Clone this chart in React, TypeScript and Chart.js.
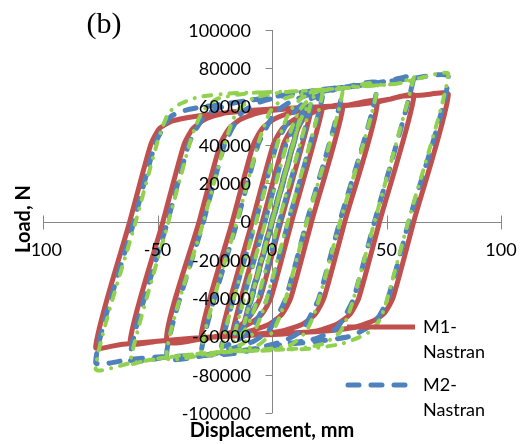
import React, { useEffect, useRef } from "react";
import { Chart, registerables } from "chart.js";

Chart.register(...registerables);

// ---------- data ----------
const X_TICKS = [-100, -50, 0, 50, 100];
const Y_TICKS = [-100000, -80000, -60000, -40000, -20000, 0, 20000, 40000, 60000, 80000, 100000];
const SERIES_NAMES = ["M1-Nastran", "M2-Nastran", "M3"];
const LEGEND_LINES = [["M1-", "Nastran"], ["M2-", "Nastran"]];
const X_TITLE = "Displacement, mm";
const Y_TITLE = "Load, N";
const PANEL_LABEL = "(b)";

// M1-Nastran (displacement mm, load N)
const M1_POINTS: [number, number][] = [
  [0, 0], [8, 35000], [10.5, 46000], [12, 52000],
  [0.2, 0], [-9, -40000], [-11, -48000], [-12, -52000],
  [-0.2, 0], [9, 40000], [11.5, 49000], [14, 54000], [17, 57500],
  [3.9, 0], [-5.2, -40000], [-9, -48500], [-13, -53500], [-17, -56500],
  [-4.2, 0], [4.9, 40000], [8.7, 48500], [13, 53500], [18, 57000], [22, 59000],
  [8.6, 0], [-0.5, -40000], [-4.5, -48500], [-10, -53500], [-16, -57000], [-22, -59000],
  [-8.6, 0], [0.5, 40000], [4.5, 48500], [10, 53500], [16, 57000], [22, 59200], [31, 60300],
  [17.3, 0], [8.2, -40000], [4.3, -48500], [-1, -53500], [-9, -57000], [-20, -59000], [-31, -60400],
  [-17.3, 0], [-8.2, 40000], [-4.3, 48500], [1, 53500], [9, 57000], [20, 59500], [32, 60500], [46, 62400],
  [31.8, 0], [22.7, -40000], [18.8, -48500], [13.5, -53500], [5, -57000], [-8, -59000], [-25, -60200], [-46, -62300],
  [-31.8, 0], [-22.7, 40000], [-18.8, 48500], [-13.5, 53500], [-5, 57000], [8, 59000], [25, 60200], [40, 61500], [52, 64000], [62, 65800],
  [47, 0], [37.9, -40000], [34, -48500], [28.5, -53500], [20, -57000], [5, -58700], [-15, -59600], [-35, -61000], [-50, -62500], [-62, -63300],
  [-47.6, 0], [-38.5, 40000], [-34.6, 48500], [-29, 53500], [-20, 56800], [-5, 58300], [10, 59300], [30, 60300], [46, 62400], [52, 64000], [57, 65500], [66, 66000], [77, 66300],
  [61.9, 0], [52.8, -40000], [49, -48000], [44, -52000], [35, -55500], [20, -57500], [0, -58700], [-20, -59800], [-40, -61500], [-55, -63000], [-66, -64200], [-77, -65600],
  [-62.1, 0], [-53, 40000], [-49.2, 48500], [-43.5, 52500], [-33, 55000], [-20, 56800], [0, 58700],
];

// M2-Nastran
const M2_POINTS: [number, number][] = [
  [0, 0], [8, 35000], [10.5, 47000], [12, 54000],
  [-0.3, 0], [-9.4, -40000], [-11, -48000], [-12, -54000],
  [0.3, 0], [9.4, 40000], [11.5, 49000], [14, 56000], [17, 60500],
  [3.25, 0], [-5.8, -40000], [-9.5, -49000], [-13, -56000], [-17, -61000],
  [-3.1, 0], [6, 40000], [9.5, 49000], [13, 56500], [17, 61500], [22, 65000],
  [7.2, 0], [-1.9, -40000], [-5.5, -49000], [-9.5, -57000], [-15, -62000], [-22, -65000],
  [-7.2, 0], [1.9, 40000], [5.5, 49000], [9.5, 57000], [15, 63000], [22, 66500], [31, 69500],
  [15.2, 0], [6.1, -40000], [2.5, -49000], [-1.5, -57000], [-8, -62500], [-18, -66500], [-31, -69500],
  [-15.2, 0], [-6.1, 40000], [-2.5, 49000], [1.5, 57000], [8, 62500], [18, 67000], [30, 69500], [46, 72000],
  [29.6, 0], [20.5, -40000], [16.9, -49000], [12.9, -57000], [5, -62500], [-8, -66500], [-25, -69000], [-46, -71000],
  [-29.9, 0], [-20.8, 40000], [-17.2, 49000], [-13, 57000], [-5, 62500], [8, 66500], [20, 68500], [35, 70500], [48, 72800], [56, 74800], [62, 75800],
  [44.8, 0], [35.7, -40000], [32, -49000], [28, -56000], [18, -61500], [0, -65000], [-17, -68500], [-32, -70000], [-46, -70800], [-62, -72000],
  [-45.6, 0], [-36.5, 40000], [-32.8, 49000], [-28.5, 56000], [-18, 61500], [0, 65000], [19, 68500], [35, 70700], [48, 72700], [60, 74500], [77, 75500],
  [59.8, 0], [50.7, -40000], [47, -49000], [43, -54500], [34, -60000], [20, -62500], [0, -65000], [-17, -69000], [-32, -70000], [-46, -70500], [-62, -72000], [-77, -73500],
  [-60.3, 0], [-51.2, 40000], [-47.5, 49000], [-44, 55000], [-38, 58000], [-32, 59500], [-17, 62000], [0, 65000],
];

// third series (green)
const M3_POINTS: [number, number][] = [
  [0, 0], [8, 35000], [11, 48000], [12, 53000],
  [0, 0], [-9.1, -40000], [-11, -48000], [-12, -53000],
  [0, 0], [9.1, 40000], [11.5, 50000], [14, 57000], [17, 62000],
  [2.9, 0], [-6.2, -40000], [-9, -50000], [-12, -57000], [-17, -62500],
  [-2.8, 0], [6.3, 40000], [9, 50000], [12, 58000], [16, 63500], [22, 66500],
  [6.9, 0], [-2.2, -40000], [-5, -50000], [-8, -58000], [-13, -64000], [-22, -66500],
  [-6.9, 0], [2.2, 40000], [5, 50000], [8, 58000], [13, 64500], [20, 67500], [31, 69500],
  [15.2, 0], [6.1, -40000], [3.3, -50000], [0, -58000], [-6, -64500], [-17, -67500], [-31, -69000],
  [-15.3, 0], [-6.2, 40000], [-3.4, 50000], [-0.5, 58000], [5, 64000], [17, 67500], [31, 69500], [46, 71500],
  [29.75, 0], [20.7, -40000], [17.9, -50000], [14.5, -58000], [8, -64500], [-5, -67000], [-25, -68500], [-46, -71000],
  [-29.9, 0], [-20.8, 40000], [-18, 50000], [-15, 58000], [-8, 64500], [5, 67500], [25, 69000], [42, 71000], [55, 72000], [60, 74500], [62, 75500],
  [44.8, 0], [35.7, -40000], [32.9, -50000], [29.5, -58000], [22, -64000], [10, -66500], [-5, -67500], [-20, -68000], [-40, -70000], [-55, -72500], [-62, -74000],
  [-45.2, 0], [-36.1, 40000], [-33.3, 50000], [-30, 58000], [-24, 64000], [-10, 67000], [10, 68000], [30, 69500], [45, 71000], [55, 72000], [65, 75000], [77, 77000],
  [59.5, 0], [50.4, -40000], [47.6, -50000], [44, -56500], [38, -60500], [30, -64000], [16, -66500], [0, -67000], [-17, -68000], [-32, -69000], [-46, -71000], [-62, -74000], [-77, -77000],
  [-59.5, 0], [-50.4, 40000], [-47.6, 50000], [-45, 57000], [-40, 61500], [-32, 65000], [-17, 67000], [0, 67500],
];

// ---------- styles ----------
const RED = "#C0504D";
const BLUE = "#4F81BD";
const GREEN = "#92D050";
const AXIS = "#868686";
const TICK_FONT = '18px Lato, "Liberation Sans", sans-serif';
const TITLE_FONT = 'bold 20px Lato, "Liberation Sans", sans-serif';
const PANEL_FONT = '30px "Liberation Serif", "Times New Roman", serif';

const toXY = (pts: [number, number][]) => pts.map(([x, y]) => ({ x, y }));

const excelPlugin = {
  id: "excelLook",
  beforeDatasetsDraw(chart: any) {
    const { ctx, scales } = chart;
    const sx = scales.x;
    const sy = scales.y;
    const x0 = Math.round(sx.getPixelForValue(0)) + 0.5;
    const y0 = Math.round(sy.getPixelForValue(0)) + 0.5;
    ctx.save();
    ctx.strokeStyle = AXIS;
    ctx.lineWidth = 1;
    ctx.beginPath();
    ctx.moveTo(sx.getPixelForValue(X_TICKS[0]), y0);
    ctx.lineTo(sx.getPixelForValue(X_TICKS[X_TICKS.length - 1]), y0);
    ctx.moveTo(x0, sy.getPixelForValue(Y_TICKS[0]));
    ctx.lineTo(x0, sy.getPixelForValue(Y_TICKS[Y_TICKS.length - 1]));
    for (const t of X_TICKS) {
      const px = Math.round(sx.getPixelForValue(t)) + 0.5;
      ctx.moveTo(px, y0 - 7);
      ctx.lineTo(px, y0 + 7);
    }
    for (const t of Y_TICKS) {
      const py = Math.round(sy.getPixelForValue(t)) + 0.5;
      ctx.moveTo(x0 - 7, py);
      ctx.lineTo(x0, py);
    }
    ctx.stroke();
    ctx.restore();
  },
  afterDatasetsDraw(chart: any) {
    const { ctx, scales } = chart;
    const sx = scales.x;
    const sy = scales.y;
    const x0 = sx.getPixelForValue(0);
    const y0 = sy.getPixelForValue(0);
    ctx.save();
    ctx.fillStyle = "#000";
    ctx.font = TICK_FONT;
    // x tick labels
    ctx.textAlign = "center";
    ctx.textBaseline = "middle";
    for (const t of X_TICKS) {
      ctx.fillText(String(t), sx.getPixelForValue(t), y0 + 29);
    }
    // y tick labels
    ctx.textAlign = "right";
    for (const t of Y_TICKS) {
      ctx.fillText(String(t), x0 - 21, sy.getPixelForValue(t) + 1);
    }
    // axis titles
    ctx.font = TITLE_FONT;
    ctx.textAlign = "center";
    ctx.fillText(X_TITLE, x0, 431);
    ctx.save();
    ctx.translate(24, 219);
    ctx.rotate(-Math.PI / 2);
    ctx.fillText(Y_TITLE, 0, 0);
    ctx.restore();
    // panel label
    ctx.font = PANEL_FONT;
    ctx.fillText(PANEL_LABEL, 104, 25);
    // legend
    const legendColors = [RED, BLUE];
    const legendDash = [[], [11, 12]];
    const legendY = [327, 385];
    for (let i = 0; i < LEGEND_LINES.length; i++) {
      ctx.save();
      ctx.strokeStyle = legendColors[i];
      ctx.lineWidth = 5;
      ctx.lineCap = i === 0 ? "butt" : "round";
      ctx.setLineDash(legendDash[i]);
      ctx.beginPath();
      ctx.moveTo(i === 0 ? 347 : 348, legendY[i]);
      ctx.lineTo(415, legendY[i]);
      ctx.stroke();
      ctx.restore();
      ctx.font = TICK_FONT;
      ctx.textAlign = "left";
      ctx.textBaseline = "middle";
      ctx.fillText(LEGEND_LINES[i][0], 423, legendY[i]);
      ctx.fillText(LEGEND_LINES[i][1], 423, legendY[i] + 25);
    }
    ctx.restore();
  },
};

export default function App() {
  const canvasRef = useRef<HTMLCanvasElement | null>(null);

  useEffect(() => {
    if (!canvasRef.current) return;
    const chart = new Chart(canvasRef.current, {
      type: "scatter",
      data: {
        datasets: [
          {
            label: SERIES_NAMES[0],
            data: toXY(M1_POINTS),
            showLine: true,
            borderColor: RED,
            backgroundColor: RED,
            borderWidth: 5,
            pointRadius: 0,
            tension: 0.2,
            borderJoinStyle: "round",
            borderCapStyle: "round",
            order: 3,
          },
          {
            label: SERIES_NAMES[1],
            data: toXY(M2_POINTS),
            showLine: true,
            borderColor: BLUE,
            backgroundColor: BLUE,
            borderWidth: 5,
            borderDash: [11, 12],
            borderCapStyle: "round",
            borderJoinStyle: "round",
            pointRadius: 0,
            tension: 0.2,
            order: 2,
          },
          {
            label: SERIES_NAMES[2],
            data: toXY(M3_POINTS),
            showLine: true,
            borderColor: GREEN,
            backgroundColor: GREEN,
            borderWidth: 4,
            borderDash: [8, 9, 0.1, 9],
            borderCapStyle: "round",
            borderJoinStyle: "round",
            pointRadius: 0,
            tension: 0.2,
            order: 1,
          },
        ],
      },
      options: {
        responsive: false,
        animation: false,
        devicePixelRatio: 1,
        layout: { padding: { left: 43, top: 30, right: 27, bottom: 31 } },
        plugins: {
          legend: { display: false },
          tooltip: { enabled: false },
        },
        scales: {
          x: { type: "linear", min: -100, max: 100, display: false },
          y: { type: "linear", min: -100000, max: 100000, display: false },
        },
      },
      plugins: [excelPlugin],
    } as any);
    return () => chart.destroy();
  }, []);

  return (
    <div style={{ position: "fixed", left: 0, top: 0, width: 528, height: 444, background: "#fff" }}>
      <canvas ref={canvasRef} width={528} height={444} style={{ display: "block" }} />
    </div>
  );
}
